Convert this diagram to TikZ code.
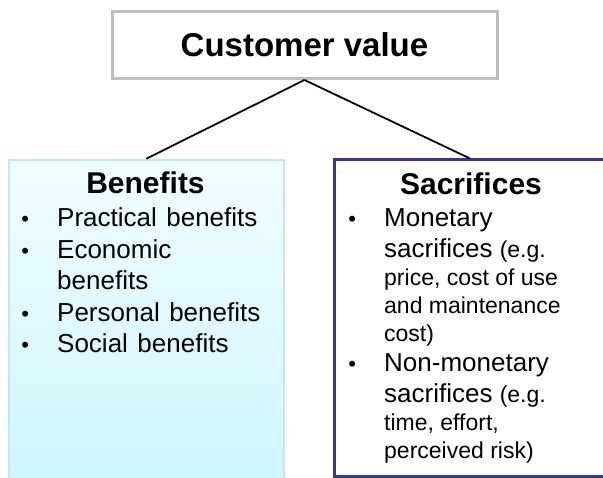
\documentclass[tikz,border=0pt]{standalone}
\usepackage{fontspec}
\setmainfont{Liberation Sans}
\usepackage{xcolor}
\usepackage{tikz}
\usetikzlibrary{positioning}
\definecolor{boxgray}{HTML}{BFBFBF}
\definecolor{paleblue}{HTML}{C2E6F8}
\definecolor{icetop}{HTML}{F0FDFF}
\definecolor{icebottom}{HTML}{CCF6FE}
\definecolor{navy}{HTML}{363699}
\tikzstyle{valuebox}     = [rectangle, draw=boxgray, line width=3pt, fill=white, minimum width=385pt, minimum height=67pt, inner sep=0pt, font=\fontsize{33}{36}\selectfont\bfseries]
\tikzstyle{benefitbox}   = [rectangle, draw=paleblue, line width=2pt, top color=icetop, bottom color=icebottom, minimum width=275pt, minimum height=340pt, inner sep=0pt]
\tikzstyle{sacrificebox} = [rectangle, draw=navy, line width=3pt, fill=white, minimum width=272pt, minimum height=317pt, inner sep=0pt]
\tikzstyle{heading}      = [anchor=base, inner sep=0pt, font=\fontsize{30}{36}\selectfont\bfseries]
\tikzstyle{itemlist}     = [anchor=base west, inner sep=0pt]
\tikzstyle{link}         = [line width=1.8pt]
\newcommand{\bul}{\makebox[37pt][l]{\makebox[10pt][c]{\fontsize{22}{22}\selectfont\textbullet}}}
\newcommand{\nobul}{\hspace*{37pt}}
\newcommand{\wsp}{\hspace{9.5pt}}
\newcommand{\smalltxt}{\fontsize{23}{27}\selectfont}

\begin{document}
\begin{tikzpicture}[x=1pt,y=-1pt]
		\useasboundingbox (0,0) rectangle (603,478);

		\node[valuebox] (value) at (304.5,45) {Customer value};
		\node[benefitbox] (benefits) at (146.25,329.75) {};
		\node[sacrificebox] (sacrifices) at (470,318.5) {};

		\draw[link] (value.south) -- (benefits.north);
		\draw[link] (value.south) -- (sacrifices.north);

		\node[heading] (benefitshead) at (145.5,194) {Benefits};
		\node[heading] (sacrificeshead) at (471,195) {Sacrifices};

		\node[itemlist, font=\fontsize{26}{31.5}\selectfont] (benefitlist) at (20,227) {%
			\begin{tabular}[t]{@{}l@{}}
				\bul Practical\wsp benefits \\
				\bul Economic \\
				\nobul benefits \\
				\bul Personal\wsp benefits \\
				\bul Social\wsp benefits
			\end{tabular}};

		\node[itemlist, font=\fontsize{26}{28}\selectfont] (sacrificelist) at (347,227) {%
			\begin{tabular}[t]{@{}l@{}}
				\bul Monetary \\[3pt]
				\nobul sacrifices {\smalltxt(e.g.} \\
				\nobul {\smalltxt price, cost of use} \\
				\nobul {\smalltxt and maintenance} \\
				\nobul {\smalltxt cost)} \\[2pt]
				\bul Non-monetary \\[3pt]
				\nobul sacrifices {\smalltxt(e.g.} \\
				\nobul {\smalltxt time, effort,} \\
				\nobul {\smalltxt perceived risk)}
			\end{tabular}};
	\end{tikzpicture}
\end{document}
